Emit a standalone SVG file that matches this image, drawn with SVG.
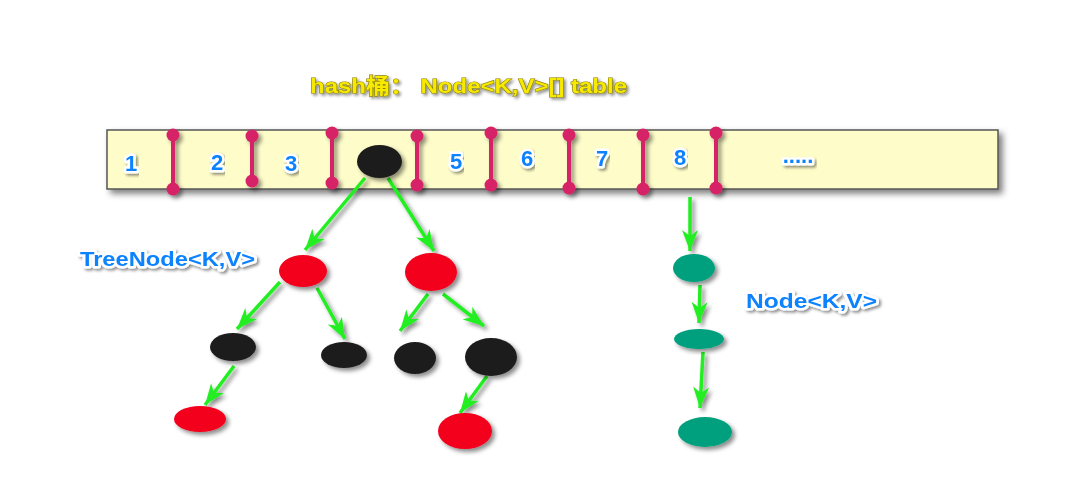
<svg xmlns="http://www.w3.org/2000/svg" width="1069" height="482" viewBox="0 0 1069 482">
<defs>
<filter id="sh" x="-30%" y="-30%" width="160%" height="160%"><feDropShadow dx="3" dy="3" stdDeviation="2" flood-color="#000" flood-opacity="0.45"/></filter>
<filter id="she" filterUnits="userSpaceOnUse" x="0" y="0" width="1069" height="482"><feDropShadow dx="3" dy="3" stdDeviation="2" flood-color="#000" flood-opacity="0.45"/></filter>
<filter id="shb" x="-5%" y="-30%" width="110%" height="160%"><feDropShadow dx="4" dy="4" stdDeviation="3" flood-color="#000" flood-opacity="0.5"/></filter>
<filter id="sht" x="-10%" y="-30%" width="120%" height="160%"><feDropShadow dx="2" dy="2" stdDeviation="1.5" flood-color="#000" flood-opacity="0.45"/></filter>
<marker id="ah" markerUnits="userSpaceOnUse" viewBox="-22 -9 24 18" refX="0" refY="0" markerWidth="24" markerHeight="18" orient="auto">
<path d="M0,0 L-21,-8 L-15,0 L-21,8 Z" fill="#22ee22"/>
</marker>
</defs>
<style>
.sep line{stroke:#d62466;stroke-width:4}
.sep circle{fill:#d62466}
.num{font-family:"Liberation Sans",Arial,sans-serif;font-weight:bold;font-size:22px;fill:#0b82ff;stroke:#fff;stroke-width:5;stroke-linejoin:round;paint-order:stroke;filter:url(#sht)}
.lbl{font-family:"Liberation Sans","Noto Sans CJK SC",sans-serif;font-weight:bold;font-size:21px;fill:#0b82ff;stroke:#fff;stroke-width:5;stroke-linejoin:round;paint-order:stroke;filter:url(#sht)}
.title{font-family:"Liberation Sans","Noto Sans CJK SC",sans-serif;font-weight:bold;font-size:21px;fill:#f7ea00;stroke:#8c8000;stroke-width:1.2;paint-order:stroke;filter:url(#sht)}
.red{fill:#f2001c;filter:url(#sh)}
.blk{fill:#1e1e1e;filter:url(#sh)}
.teal{fill:#00a07e;filter:url(#sh)}
.edge{stroke:#22ee22;stroke-width:3.5;fill:none;marker-end:url(#ah)}
</style>

<text class="title" x="310" y="93" textLength="317" lengthAdjust="spacingAndGlyphs">hash桶：  Node&lt;K,V&gt;[] table</text>

<g id="bucket-array">
<rect x="107" y="130" width="891" height="59" fill="#fefdca" stroke="#555" stroke-width="1.5" filter="url(#shb)"/>
</g>

<g id="separators" class="sep" filter="url(#she)">
<line x1="173" y1="135" x2="173" y2="189"/><circle cx="173" cy="135" r="6.5"/><circle cx="173" cy="189" r="6.5"/>
<line x1="252" y1="136" x2="252" y2="181"/><circle cx="252" cy="136" r="6.5"/><circle cx="252" cy="181" r="6.5"/>
<line x1="332" y1="133" x2="332" y2="183"/><circle cx="332" cy="133" r="6.5"/><circle cx="332" cy="183" r="6.5"/>
<line x1="417" y1="136" x2="417" y2="185"/><circle cx="417" cy="136" r="6.5"/><circle cx="417" cy="185" r="6.5"/>
<line x1="491" y1="133" x2="491" y2="185"/><circle cx="491" cy="133" r="6.5"/><circle cx="491" cy="185" r="6.5"/>
<line x1="569" y1="135" x2="569" y2="188"/><circle cx="569" cy="135" r="6.5"/><circle cx="569" cy="188" r="6.5"/>
<line x1="643" y1="135" x2="643" y2="189"/><circle cx="643" cy="135" r="6.5"/><circle cx="643" cy="189" r="6.5"/>
<line x1="716" y1="133" x2="716" y2="188"/><circle cx="716" cy="133" r="6.5"/><circle cx="716" cy="188" r="6.5"/>
</g>

<g id="bucket-labels">
<text class="num" x="131" y="171" text-anchor="middle">1</text>
<text class="num" x="217" y="170" text-anchor="middle">2</text>
<text class="num" x="291" y="171" text-anchor="middle">3</text>
<text class="num" x="456" y="169" text-anchor="middle">5</text>
<text class="num" x="527" y="166" text-anchor="middle">6</text>
<text class="num" x="602" y="166" text-anchor="middle">7</text>
<text class="num" x="680" y="165" text-anchor="middle">8</text>
<text class="num" x="798" y="163" text-anchor="middle">.....</text>
</g>

<g id="connectors" filter="url(#she)">
<line class="edge" x1="365" y1="178" x2="305" y2="250"/>
<line class="edge" x1="388" y1="178" x2="434" y2="251"/>
<line class="edge" x1="280" y1="282" x2="237" y2="329"/>
<line class="edge" x1="317" y1="288" x2="345" y2="339"/>
<line class="edge" x1="428" y1="294" x2="400" y2="331"/>
<line class="edge" x1="443" y1="294" x2="484" y2="326"/>
<line class="edge" x1="234" y1="366" x2="205" y2="405"/>
<line class="edge" x1="487" y1="376" x2="460" y2="413"/>
<line class="edge" x1="690" y1="197" x2="690" y2="251"/>
<line class="edge" x1="700" y1="285" x2="699" y2="323"/>
<line class="edge" x1="703" y1="352" x2="700" y2="408"/>
</g>

<g id="bucket4-root"><ellipse class="blk" cx="379.5" cy="161.5" rx="22.5" ry="16.5"/></g>
<g id="tree-red-1"><ellipse class="red" cx="303" cy="271" rx="24" ry="16"/></g>
<g id="tree-red-2"><ellipse class="red" cx="431" cy="272" rx="26" ry="19"/></g>
<g id="tree-black-1"><ellipse class="blk" cx="233" cy="347" rx="23" ry="14"/></g>
<g id="tree-black-2"><ellipse class="blk" cx="344" cy="355" rx="23" ry="13"/></g>
<g id="tree-black-3"><ellipse class="blk" cx="415" cy="358" rx="21" ry="16"/></g>
<g id="tree-black-4"><ellipse class="blk" cx="491" cy="357" rx="26" ry="19"/></g>
<g id="tree-red-3"><ellipse class="red" cx="200" cy="419" rx="26" ry="13"/></g>
<g id="tree-red-4"><ellipse class="red" cx="465" cy="431" rx="27" ry="18"/></g>
<g id="list-node-1"><ellipse class="teal" cx="694" cy="268" rx="21" ry="14"/></g>
<g id="list-node-2"><ellipse class="teal" cx="699" cy="339" rx="25" ry="10"/></g>
<g id="list-node-3"><ellipse class="teal" cx="705" cy="432" rx="27" ry="15"/></g>

<g id="label-treenode"><text class="lbl" x="80" y="266" textLength="175" lengthAdjust="spacingAndGlyphs">TreeNode&lt;K,V&gt;</text></g>
<g id="label-node"><text class="lbl" x="746" y="308" textLength="131" lengthAdjust="spacingAndGlyphs">Node&lt;K,V&gt;</text></g>
</svg>
